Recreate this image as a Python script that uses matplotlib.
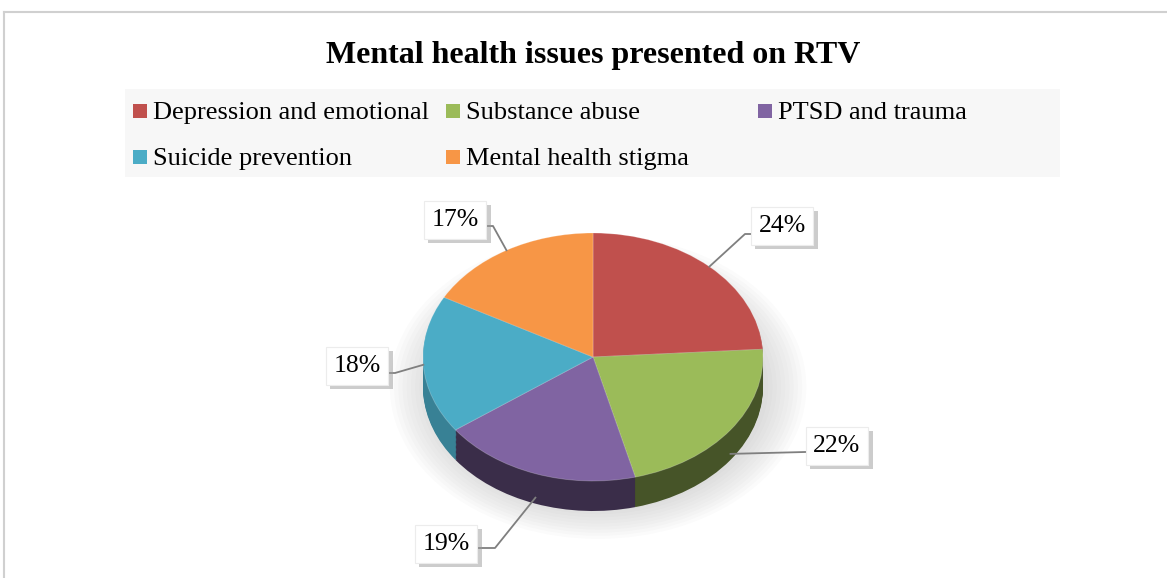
import matplotlib
matplotlib.use("Agg")
import matplotlib.pyplot as plt
import numpy as np
from matplotlib.patches import Rectangle, Ellipse
from matplotlib.lines import Line2D
import matplotlib.patheffects as pe
import matplotlib.colors as mcolors

# ---- data ----
categories = ["Depression and emotional", "Substance abuse", "PTSD and trauma",
              "Suicide prevention", "Mental health stigma"]
values = [24, 22, 19, 18, 17]
colors = ["#c0504d", "#9bbb59", "#8064a2", "#4bacc6", "#f79646"]
side_shade = [0.5, 0.45, 0.45, 0.75, 0.6]
title = "Mental health issues presented on RTV"

SERIF = ['Liberation Serif', 'DejaVu Serif']
plt.rcParams['font.family'] = SERIF

W, H = 1167, 578
fig = plt.figure(figsize=(W / 100, H / 100), dpi=100)

def fx(x):
    return x / W

def fy(y):
    return 1 - y / H

# chart border
fig.add_artist(Line2D([fx(4), fx(4)], [fy(12), 0], color="#d0d0d0", lw=1.5))
fig.add_artist(Line2D([fx(4), 1], [fy(12), fy(12)], color="#d0d0d0", lw=1.5))

# title
fig.text(fx(593), fy(55), title, ha="center", va="center", fontsize=23,
         fontweight="bold", color="black", family=SERIF)

# legend (row-major, fixed-width columns)
fig.add_artist(Rectangle((fx(125), fy(177)), fx(1060 - 125), (177 - 89) / H,
                         facecolor="#f7f7f7", edgecolor="none"))
col_x = [133, 446, 758]
row_y = [111, 157]
for i, (cat, c) in enumerate(zip(categories, colors)):
    r, k = divmod(i, 3)
    x0, y0 = col_x[k], row_y[r]
    fig.add_artist(Rectangle((fx(x0), fy(y0 + 7)), 14 / W, 14 / H,
                             facecolor=c, edgecolor="none"))
    fig.text(fx(x0 + 20), fy(y0 + 2), cat, ha="left", va="center", fontsize=19,
             color="black", family=SERIF)

# pie axes (elliptical via non-equal aspect)
cx, cy, rx, ry, depth = 593, 357, 170, 124, 30
d = depth / ry
ax = fig.add_axes([fx(cx - rx), fy(cy + ry + depth), 2 * rx / W, (2 * ry + depth) / H])
ax.axis("off")

# soft shadow
for i in range(10):
    s = 1.0 + 0.025 * i
    ax.add_patch(Ellipse((0.03, -d * 1.0), 2 * s, 2 * s, facecolor="#909090",
                         alpha=0.03, edgecolor="none", zorder=0, clip_on=False))

def darker(c, f):
    r, g, b = mcolors.to_rgb(c)
    return (r * f, g * f, b * f)

N = 24
for j in range(N):
    off = -d + d * j / N
    ax.pie(values, colors=[darker(c, f) for c, f in zip(colors, side_shade)],
           startangle=90, counterclock=False, center=(0, off), radius=1.0,
           wedgeprops=dict(linewidth=0, zorder=1 + j / N))
ax.pie(values, colors=colors, startangle=90, counterclock=False,
       center=(0, 0), radius=1.0,
       wedgeprops=dict(linewidth=0.6, edgecolor=(1, 1, 1, 0.25), zorder=3))
ax.set_aspect("auto")
ax.set_xlim(-1, 1)
ax.set_ylim(-1 - d, 1)

# data labels with leader lines
box_pos = [(782, 226), (837, 446), (446, 544), (357, 366), (455, 220)]
elbow = [(745, 234), (805, 452), (495, 548), (395, 373), (493, 226)]
cum = np.cumsum([0] + values)
total = float(sum(values))
fig.canvas.draw()
for i, v in enumerate(values):
    th = np.deg2rad((cum[i] + v / 2) / total * 360)
    px, py = np.sin(th), np.cos(th)
    if py < -0.3:
        py -= d * 0.8
    disp = ax.transData.transform((px, py))
    sx, sy = disp[0] / W, disp[1] / H
    ex, ey = elbow[i]
    bx, by = box_pos[i]
    fig.add_artist(Line2D([sx, fx(ex), fx(bx)], [sy, fy(ey), fy(ey)],
                          color="#7f7f7f", lw=1.3, zorder=5))
    t = fig.text(fx(bx), fy(by), f"{v}%", ha="center", va="center",
                 fontsize=18.5, color="black", zorder=6, family=SERIF,
                 bbox=dict(boxstyle="square,pad=0.3", facecolor="white",
                           edgecolor="#ececec", linewidth=0.8))
    t.get_bbox_patch().set_path_effects([
        pe.SimplePatchShadow(offset=(3, -3), shadow_rgbFace="#9a9a9a", alpha=0.5),
        pe.Normal()])

fig.savefig("out.png", dpi=100, facecolor="white")
